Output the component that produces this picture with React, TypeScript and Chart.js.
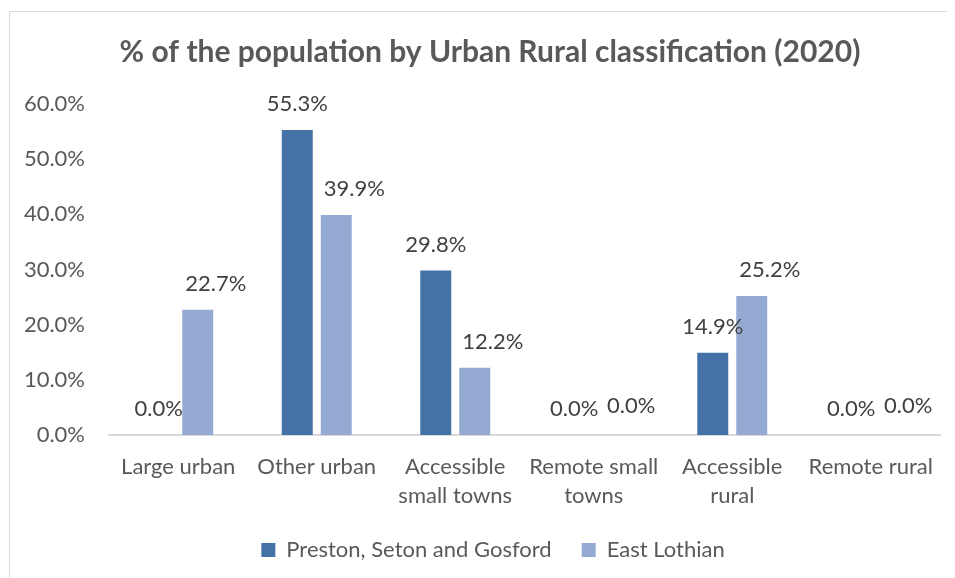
import React, { useEffect, useRef } from "react";
import { Chart, registerables } from "chart.js";

Chart.register(...registerables);

const categories: (string | string[])[] = [
  "Large urban",
  "Other urban",
  ["Accessible", "small towns"],
  ["Remote small", "towns"],
  ["Accessible", "rural"],
  "Remote rural",
];
const prestonValues = [0.0, 55.3, 29.8, 0.0, 14.9, 0.0];
const eastLothianValues = [22.7, 39.9, 12.2, 0.0, 25.2, 0.0];
const seriesNames = ["Preston, Seton and Gosford", "East Lothian"];
const yTicks = [0, 10, 20, 30, 40, 50, 60];

const FONT = "Lato";

const framePlugin = {
  id: "frame",
  afterLayout(chart: any) {
    if (chart.legend) {
      chart.legend.left += 19;
      chart.legend.right += 19;
    }
    if (chart.titleBlock) {
      chart.titleBlock.left += 16;
      chart.titleBlock.right += 16;
    }
  },
  beforeDraw(chart: any) {
    const ctx = chart.ctx;
    ctx.save();
    ctx.fillStyle = "#ffffff";
    ctx.fillRect(0, 0, chart.width, chart.height);
    ctx.strokeStyle = "#D9D9D9";
    ctx.lineWidth = 1;
    ctx.beginPath();
    ctx.moveTo(1.5, chart.height + 5);
    ctx.lineTo(1.5, 3.5);
    ctx.lineTo(chart.width + 5, 3.5);
    ctx.stroke();
    ctx.restore();
  },
};

const labelPlugin = {
  id: "barLabels",
  afterDatasetsDraw(chart: any) {
    const ctx = chart.ctx;
    ctx.save();
    ctx.font = `22px ${FONT}`;
    ctx.fillStyle = "#404040";
    ctx.textAlign = "center";
    ctx.textBaseline = "middle";
    chart.data.datasets.forEach((ds: any, di: number) => {
      const meta = chart.getDatasetMeta(di);
      meta.data.forEach((bar: any, i: number) => {
        const v = ds.data[i] as number;
        let x = bar.x;
        let y = bar.y - 26;
        if (di === 1) {
          x += 18;
          if (v === 0) y -= 3;
        }
        ctx.fillText(v.toFixed(1) + "%", x, y);
      });
    });
    ctx.restore();
  },
};

export default function App() {
  const ref = useRef<HTMLCanvasElement | null>(null);
  useEffect(() => {
    if (!ref.current) return;
    const chart = new Chart(ref.current, {
      type: "bar",
      data: {
        labels: categories,
        datasets: [
          {
            label: seriesNames[0],
            data: prestonValues,
            backgroundColor: "#4472A6",
            categoryPercentage: 0.563,
            barPercentage: 0.795,
          },
          {
            label: seriesNames[1],
            data: eastLothianValues,
            backgroundColor: "#95AAD2",
            categoryPercentage: 0.563,
            barPercentage: 0.795,
          },
        ],
      },
      options: {
        animation: false,
        responsive: true,
        maintainAspectRatio: false,
        layout: { padding: { left: 0, right: 15, top: 0, bottom: 7 } },
        plugins: {
          title: {
            display: true,
            text: "% of the population by Urban Rural classification (2020)",
            color: "#595959",
            font: { family: FONT, size: 30, weight: "bold", lineHeight: 1.2 },
            padding: { top: 26, bottom: 34 },
          },
          legend: {
            display: true,
            position: "bottom",
            labels: {
              color: "#595959",
              font: { family: FONT, size: 22 },
              boxWidth: 14,
              boxHeight: 14,
              padding: 30,
            },
          },
          tooltip: { enabled: false },
        },
        scales: {
          x: {
            grid: { display: false, drawTicks: false },
            border: { display: true, color: "#D9D9D9", width: 2 },
            ticks: {
              color: "#595959",
              font: { family: FONT, size: 22, lineHeight: 1.32 },
              padding: 17.5,
              maxRotation: 0,
              autoSkip: false,
            },
            afterFit(scale: any) {
              scale.height = 74;
            },
          },
          y: {
            min: 0,
            max: 60,
            afterBuildTicks(scale: any) {
              scale.ticks = yTicks.map((v) => ({ value: v }));
            },
            grid: { display: false, drawTicks: false },
            border: { display: false },
            ticks: {
              color: "#595959",
              font: { family: FONT, size: 22 },
              padding: 24,
              callback: (v: any) => Number(v).toFixed(1) + "%",
            },
            afterFit(scale: any) {
              scale.width = 101;
            },
          },
        },
      },
      plugins: [framePlugin, labelPlugin],
    });
    return () => chart.destroy();
  }, []);
  return (
    <div style={{ width: 947, height: 570, position: "relative" }}>
      <canvas ref={ref} />
    </div>
  );
}
